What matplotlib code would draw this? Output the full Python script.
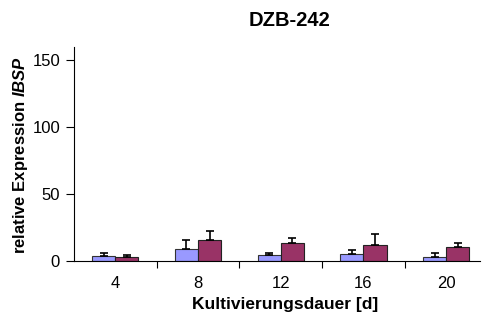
import numpy as np
import matplotlib
matplotlib.use('Agg')
import matplotlib.pyplot as plt

plt.rcParams['font.family'] = ['Liberation Sans', 'DejaVu Sans']
plt.rcParams['mathtext.fontset'] = 'custom'
plt.rcParams['mathtext.rm'] = 'Liberation Sans'
plt.rcParams['mathtext.bf'] = 'Liberation Sans:bold'
plt.rcParams['mathtext.bfit'] = 'Liberation Sans:italic:bold'

days = ['4', '8', '12', '16', '20']
blue_vals = [3.8, 8.7, 4.5, 5.2, 3.0]
blue_err = [2.2, 7.0, 1.2, 3.0, 2.7]
red_vals = [3.0, 15.7, 13.2, 12.2, 10.2]
red_err = [1.2, 6.8, 4.0, 8.0, 3.0]

fig = plt.figure(figsize=(4.87, 3.24), dpi=100)
ax = fig.add_axes([74 / 487, 63 / 324, 406 / 487, 214 / 324])

x = np.arange(len(days))
w = 0.28
err_kw = dict(ecolor='black', elinewidth=1.2, capsize=3, capthick=1.2)
ax.bar(x - w / 2, blue_vals, w, color='#9999FF', edgecolor='#333333', linewidth=0.8,
       yerr=[np.zeros(len(days)), blue_err], error_kw=err_kw)
ax.bar(x + w / 2, red_vals, w, color='#993366', edgecolor='#222222', linewidth=0.8,
       yerr=[np.zeros(len(days)), red_err], error_kw=err_kw)

ax.set_xlim(-0.5, 4.41)
ax.set_ylim(0, 160)
ax.set_yticks([0, 50, 100, 150])
ax.set_xticks(x)
ax.set_xticklabels(days)
ax.set_xticks(np.arange(0.5, 4.0, 1.0), minor=True)
ax.tick_params(axis='x', which='major', length=0, pad=11, labelsize=12)
ax.tick_params(axis='x', which='minor', length=5, width=0.8, direction='out')
ax.tick_params(axis='y', length=6, width=0.8, direction='out', labelsize=12, pad=4)

for s in ['top', 'right']:
    ax.spines[s].set_visible(False)
for s in ['left', 'bottom']:
    ax.spines[s].set_linewidth(0.8)

fig.text(290 / 487, 1 - 21 / 324, 'DZB-242', ha='center', va='center',
         fontsize=14.5, fontweight='bold')
fig.text(285 / 487, 1 - 305 / 324, 'Kultivierungsdauer [d]', ha='center', va='center',
         fontsize=12.5, fontweight='bold')
fig.text(21 / 487, 1 - 155 / 324, r'relative Expression $\mathbfit{IBSP}$',
         ha='center', va='center', rotation=90, fontsize=12, fontweight='bold')

fig.savefig('out.png', dpi=100)
